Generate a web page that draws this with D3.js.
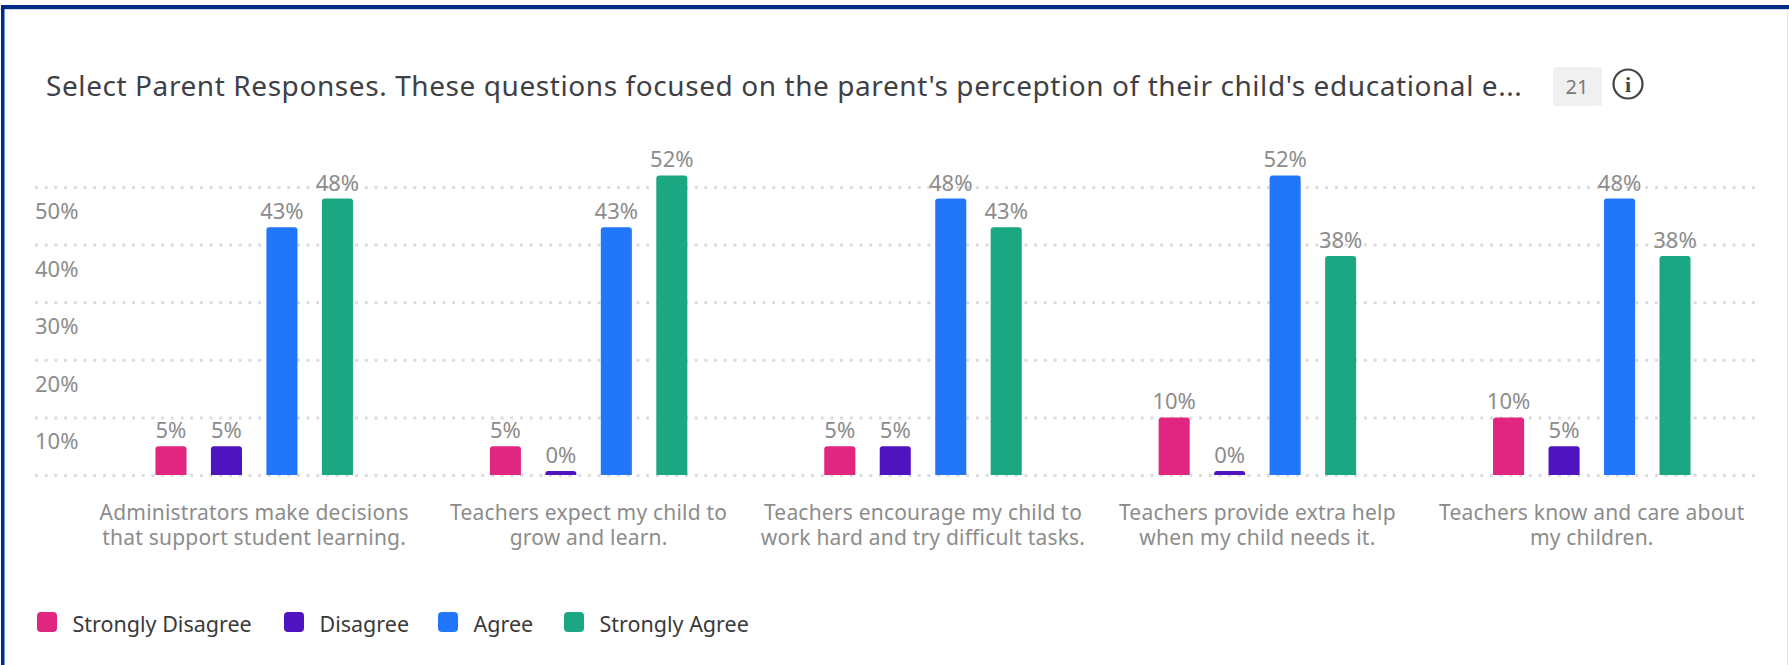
<!DOCTYPE html>
<html>
<head>
<meta charset="utf-8">
<script src="https://cdn.jsdelivr.net/npm/d3@7/dist/d3.min.js"></script>
<style>
  html, body { margin: 0; padding: 0; background: #fff; }
  svg { display: block; font-family: "Noto Sans", sans-serif; }
  .tick line { stroke: #dcdcdc; stroke-width: 3; stroke-dasharray: 3 6.7; }
  .domain { display: none; }
</style>
</head>
<body>
<svg id="chart" width="1789" height="665"></svg>
<script>
const titleText = "Select Parent Responses. These questions focused on the parent's perception of their child's educational e...";
const responseCount = "21";
const questions = [
  ["Administrators make decisions", "that support student learning."],
  ["Teachers expect my child to", "grow and learn."],
  ["Teachers encourage my child to", "work hard and try difficult tasks."],
  ["Teachers provide extra help", "when my child needs it."],
  ["Teachers know and care about", "my children."]
];
const seriesNames = ["Strongly Disagree", "Disagree", "Agree", "Strongly Agree"];
const seriesColors = ["#e0267f", "#4f14c0", "#2176f9", "#1ca783"];
const stronglyDisagree = [5, 5, 5, 10, 10];
const disagree = [5, 0, 5, 0, 5];
const agree = [43, 43, 48, 52, 48];
const stronglyAgree = [48, 52, 43, 38, 38];
const seriesValues = [stronglyDisagree, disagree, agree, stronglyAgree];
const yTicks = [0, 10, 20, 30, 40, 50];

const svg = d3.select("#chart");
const grey = "#8c8c8c";

// Card frame: navy rule along the top and left, hairline on the right
svg.append("rect").attr("x", 0).attr("y", 8).attr("width", 1789).attr("height", 2).attr("fill", "#d5d8de");
svg.append("rect").attr("x", 1787).attr("y", 8).attr("width", 1).attr("height", 657).attr("fill", "#e6e6e6");
svg.append("rect").attr("x", 1).attr("y", 5).attr("width", 1788).attr("height", 4).attr("fill", "#002a86");
svg.append("rect").attr("x", 1).attr("y", 5).attr("width", 3.5).attr("height", 660).attr("fill", "#002a86");

// Header
svg.append("text").attr("x", 46).attr("y", 96)
  .attr("font-size", 28).attr("letter-spacing", 0.58).attr("fill", "#3f3f46").text(titleText);
svg.append("rect").attr("x", 1553).attr("y", 67).attr("width", 49).attr("height", 39).attr("rx", 3).attr("fill", "#f0f0f0");
svg.append("text").attr("x", 1577).attr("y", 94).attr("text-anchor", "middle")
  .attr("font-size", 20).attr("fill", "#7a7a7a").text(responseCount);
const info = svg.append("g").attr("transform", "translate(1628,84)");
info.append("circle").attr("r", 14.5).attr("fill", "none").attr("stroke", "#444").attr("stroke-width", 2.2);
info.append("text").attr("y", 8).attr("text-anchor", "middle").attr("font-size", 22)
  .attr("font-family", "Liberation Serif").attr("font-weight", 700).attr("fill", "#444").text("i");

// Scales
const y = d3.scaleLinear().domain([0, 50]).range([475, 187]);
const x0 = d3.scaleBand().domain(d3.range(questions.length)).range([87, 1759]);
const x1 = d3.scaleBand().domain(seriesNames).range([-98.75, 98.75]).paddingInner(0.44);
const center = i => x0(i) + x0.bandwidth() / 2;

// Dotted grid and the percent ticks sitting just under each line
const axis = d3.axisRight(y).tickValues(yTicks).tickSize(1723)
  .tickFormat(d => d === 0 ? "" : d + "%");
svg.append("g").attr("transform", "translate(35,0)").call(axis)
  .call(g => g.selectAll("text")
    .attr("x", 0).attr("dy", 31.5).attr("text-anchor", "start")
    .attr("font-size", 22).attr("font-family", "Noto Sans").attr("fill", grey));

// Rounded-top bars; a zero still shows as a small nub
const minBarHeight = 4;
const barPath = (x, top, w, base) => {
  const r = Math.min(3, base - top);
  return `M${x},${base}V${top + r}Q${x},${top} ${x + r},${top}H${x + w - r}Q${x + w},${top} ${x + w},${top + r}V${base}Z`;
};
const barTop = v => Math.min(y(v), y(0) - minBarHeight);

seriesNames.forEach((name, s) => {
  const layer = svg.append("g");
  layer.selectAll("path").data(seriesValues[s]).join("path")
    .attr("fill", seriesColors[s])
    .attr("d", (v, i) => barPath(center(i) + x1(name), barTop(v), x1.bandwidth(), y(0)));
  layer.selectAll("text").data(seriesValues[s]).join("text")
    .attr("x", (v, i) => center(i) + x1(name) + x1.bandwidth() / 2)
    .attr("y", v => barTop(v) - 8)
    .attr("text-anchor", "middle").attr("font-size", 22).attr("fill", grey)
    .text(v => v + "%");
});

// Two-line question labels under each group
const labels = svg.append("g").attr("text-anchor", "middle").attr("font-size", 21).attr("letter-spacing", 0.2).attr("fill", grey);
questions.forEach((lines, i) => {
  lines.forEach((line, j) => {
    labels.append("text").attr("x", center(i)).attr("y", 520 + j * 25).text(line);
  });
});

// Legend
const legendX = [37, 284, 438, 564];
const legend = svg.append("g");
seriesNames.forEach((name, s) => {
  legend.append("rect").attr("x", legendX[s]).attr("y", 612).attr("width", 20).attr("height", 20)
    .attr("rx", 4).attr("fill", seriesColors[s]);
  legend.append("text").attr("x", legendX[s] + 35.5).attr("y", 632)
    .attr("font-size", 21.5).attr("fill", "#3a3a3a").text(name);
});
</script>
</body>
</html>
